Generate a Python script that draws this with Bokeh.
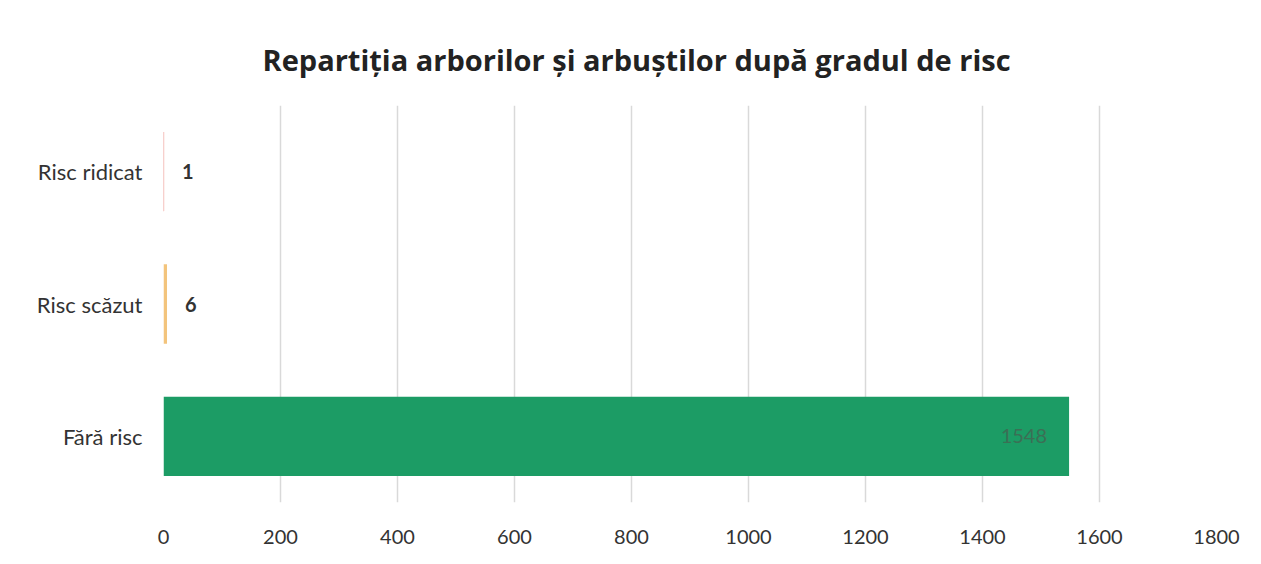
from bokeh.plotting import figure
from bokeh.models import ColumnDataSource, FactorRange, LabelSet, FixedTicker, Range1d
from bokeh.embed import file_html
from bokeh.resources import INLINE
from bokeh.core.properties import value

categories = ["Fără risc", "Risc scăzut", "Risc ridicat"]
counts = [1548, 6, 1]
colors = ["#1c9c65", "#f3c47c", "#e0463a"]
label_text = ["1548", "6", "1"]
x_ticks = [0, 200, 400, 600, 800, 1000, 1200, 1400, 1600, 1800]

src_in = ColumnDataSource(dict(cat=[categories[0]], val=[counts[0]], txt=[label_text[0]]))
src_out = ColumnDataSource(dict(cat=categories[1:], val=counts[1:], txt=label_text[1:]))
src = ColumnDataSource(dict(cat=categories, val=counts, color=colors))

p = figure(width=1245, height=548, y_range=FactorRange(*categories),
           x_range=Range1d(0, 1800), output_backend="svg", toolbar_location=None,
           min_border_left=163, min_border_right=29, min_border_top=105, min_border_bottom=46,
           title="Repartiția arborilor și arbuștilor după gradul de risc")

p.hbar(y="cat", right="val", left=0, height=0.6, fill_color="color", line_color=None, source=src)

p.add_layout(LabelSet(x="val", y="cat", text="txt", source=src_out, x_offset=18,
                      text_baseline="middle", text_font=value("Lato"), text_font_size="20px",
                      text_font_style="bold", text_color="#333333"))
p.add_layout(LabelSet(x="val", y="cat", text="txt", source=src_in, x_offset=-22,
                      text_align="right", text_baseline="middle", text_font=value("Lato"),
                      text_font_size="20px", text_color="#3b6f55"))

p.title.align = "left"
p.title.offset = 99
p.title.text_font = "Open Sans"
p.title.text_font_size = "29px"
p.title.text_font_style = "bold"
p.title.text_color = "#222222"
p.title.standoff = 54

p.xaxis.ticker = FixedTicker(ticks=x_ticks)
p.xgrid.ticker = FixedTicker(ticks=x_ticks)
p.xgrid.grid_line_color = "#d9d9d9"
p.xgrid.grid_line_width = 1.5
p.ygrid.grid_line_color = None

for ax in (p.xaxis, p.yaxis):
    ax.axis_line_color = None
    ax.major_tick_line_color = None
    ax.minor_tick_line_color = None
    ax.major_label_text_font = "Lato"
    ax.major_label_text_color = "#333333"

p.xaxis.major_label_text_font_size = "20px"
p.xaxis.major_label_standoff = 21
p.yaxis.major_label_text_font_size = "22px"
p.yaxis.major_label_standoff = 15

p.outline_line_color = None
p.background_fill_color = "white"
p.border_fill_color = "white"

open("out.html", "w").write(file_html(p, INLINE))
